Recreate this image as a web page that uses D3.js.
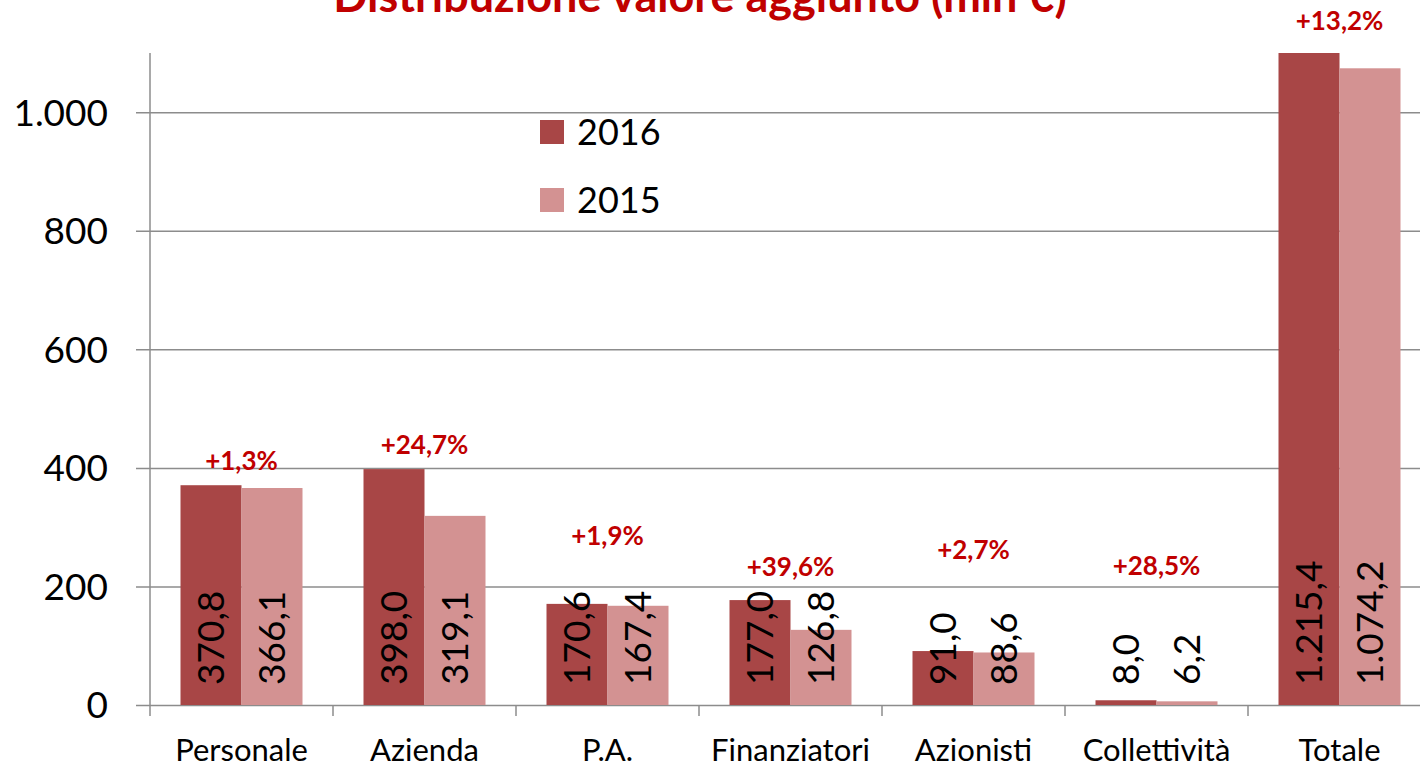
<!DOCTYPE html>
<html>
<head>
<meta charset="utf-8">
<script src="https://cdn.jsdelivr.net/npm/d3@7"></script>
<style>
  html, body { margin: 0; padding: 0; background: #fff; }
  svg { display: block; font-family: Lato, "Noto Sans", sans-serif; }
</style>
</head>
<body>
<svg id="chart" width="1420" height="766"></svg>
<script>
const titleText = "Distribuzione valore aggiunto (mln €)";
const categories = ["Personale", "Azienda", "P.A.", "Finanziatori", "Azionisti", "Collettività", "Totale"];
const seriesNames = ["2016", "2015"];
const values2016 = [370.8, 398.0, 170.6, 177.0, 91.0, 8.0, 1215.4];
const values2015 = [366.1, 319.1, 167.4, 126.8, 88.6, 6.2, 1074.2];
const changeLabels = ["+1,3%", "+24,7%", "+1,9%", "+39,6%", "+2,7%", "+28,5%", "+13,2%"];
const changeLabelLevel = [412, 439, 285, 233, 262, 235, 1154];
const yTicks = [0, 200, 400, 600, 800, 1000];
const yMax = 1100;

const colors = { "2016": "#A84646", "2015": "#D39292" };
const red = "#C00000";
const gridColor = "#8C8C8C";

const it = d3.formatLocale({ decimal: ",", thousands: ".", grouping: [3], currency: ["", " €"] });
const fmtVal = it.format(",.1f");
const fmtTick = it.format(",.0f");

const svg = d3.select("#chart");
const plot = { left: 150, right: 1431, top: 53, bottom: 705 };

const x = d3.scaleBand().domain(categories).range([plot.left, plot.right]).padding(0);
const bw = x.bandwidth();
const xs = d3.scaleBand().domain(seriesNames).range([bw / 6, bw * 5 / 6]).padding(0);
const y = d3.scaleLinear().domain([0, yMax]).range([plot.bottom, plot.top]);

const data = categories.map((c, i) => ({
  cat: c,
  vals: [{ s: "2016", v: values2016[i] }, { s: "2015", v: values2015[i] }],
  change: changeLabels[i],
  level: changeLabelLevel[i]
}));

// Title (partially cut off at top, as in the original)
svg.append("text")
  .attr("x", 700).attr("y", 12)
  .attr("text-anchor", "middle")
  .attr("font-size", 45).attr("font-weight", "bold")
  .attr("fill", red)
  .text(titleText);

// Gridlines + y-axis
const yAxis = d3.axisLeft(y).tickValues(yTicks).tickFormat(fmtTick)
  .tickSizeInner(-(plot.right - plot.left)).tickSizeOuter(0).tickPadding(0);
const gy = svg.append("g").attr("transform", `translate(${plot.left},0)`).call(yAxis);
gy.select(".domain").remove();
gy.selectAll(".tick line").attr("x1", -14).attr("stroke", gridColor).attr("stroke-width", 1.5);
gy.selectAll(".tick text")
  .attr("x", -42).attr("dy", "0.35em")
  .attr("font-size", 37).attr("font-family", "Lato, sans-serif").attr("fill", "#000");

// Bars (clipped to the plot area)
svg.append("clipPath").attr("id", "clip")
  .append("rect").attr("x", plot.left).attr("y", plot.top)
  .attr("width", plot.right - plot.left).attr("height", plot.bottom - plot.top);

const groups = svg.append("g").attr("clip-path", "url(#clip)")
  .selectAll("g").data(data).join("g")
  .attr("transform", d => `translate(${x(d.cat)},0)`);

groups.selectAll("rect").data(d => d.vals).join("rect")
  .attr("x", d => xs(d.s))
  .attr("width", xs.bandwidth())
  .attr("y", d => y(d.v))
  .attr("height", d => y(0) - y(d.v))
  .attr("fill", d => colors[d.s]);

// Value labels inside base, rotated
const lblGroups = svg.append("g").selectAll("g").data(data).join("g")
  .attr("transform", d => `translate(${x(d.cat)},0)`);
lblGroups.selectAll("text").data(d => d.vals).join("text")
  .attr("transform", d => `translate(${xs(d.s) + xs.bandwidth() / 2},${y(0) - 20}) rotate(-90)`)
  .attr("text-anchor", "start")
  .attr("dy", "0.36em")
  .attr("font-size", 37)
  .attr("fill", "#000")
  .text(d => fmtVal(d.v));

// Axis lines
svg.append("line")
  .attr("x1", plot.left).attr("x2", plot.left)
  .attr("y1", plot.top).attr("y2", plot.bottom)
  .attr("stroke", gridColor).attr("stroke-width", 1.5);

const xAxis = d3.axisBottom(x).tickSize(0).tickPadding(0);
const gx = svg.append("g").attr("transform", `translate(0,${plot.bottom})`).call(xAxis);
gx.select(".domain").remove();
gx.selectAll(".tick text")
  .attr("y", 56).attr("dy", "0")
  .attr("font-size", 31).attr("font-family", "Lato, sans-serif").attr("fill", "#000");

// Category separator ticks
svg.append("g").selectAll("line").data(categories).join("line")
  .attr("x1", d => x(d)).attr("x2", d => x(d))
  .attr("y1", plot.bottom).attr("y2", plot.bottom + 11)
  .attr("stroke", gridColor).attr("stroke-width", 1.5);

// Change annotations
svg.append("g").selectAll("text").data(data).join("text")
  .attr("x", d => x(d.cat) + bw / 2)
  .attr("y", d => y(d.level))
  .attr("dy", "0.36em")
  .attr("text-anchor", "middle")
  .attr("font-size", 26).attr("font-weight", "bold")
  .attr("fill", red)
  .text(d => d.change);

// Legend
const legend = svg.append("g").attr("transform", "translate(540,120)");
const li = legend.selectAll("g").data(seriesNames).join("g")
  .attr("transform", (d, i) => `translate(0,${i * 68})`);
li.append("rect").attr("width", 24).attr("height", 24).attr("fill", d => colors[d]);
li.append("text").attr("x", 37).attr("y", 12).attr("dy", "0.36em")
  .attr("font-size", 36).attr("fill", "#000").text(d => d);
</script>
</body>
</html>
